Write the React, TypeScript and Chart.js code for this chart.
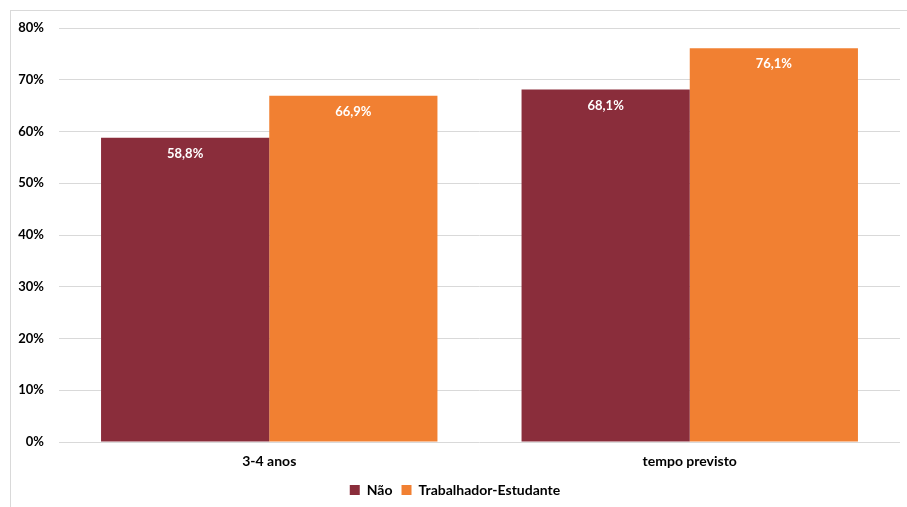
import React, { useEffect, useRef } from "react";
import { Chart, registerables } from "chart.js";

Chart.register(...registerables);

const categories = ["3-4 anos", "tempo previsto"];
const seriesNames = ["Não", "Trabalhador-Estudante"];
const naoValues = [58.8, 68.1];
const trabValues = [66.9, 76.1];
const yTicks = [0, 10, 20, 30, 40, 50, 60, 70, 80];

const FONT = "Lato, 'Noto Sans', sans-serif";

const outerBorder = {
  id: "outerBorder",
  beforeDraw(chart: any) {
    const ctx = chart.ctx;
    ctx.save();
    ctx.strokeStyle = "#d9d9d9";
    ctx.lineWidth = 1;
    ctx.strokeRect(10.5, 10.5, chart.width + 10, chart.height + 10);
    ctx.restore();
  },
};

const barLabels = {
  id: "barLabels",
  afterDatasetsDraw(chart: any) {
    const ctx = chart.ctx;
    ctx.save();
    ctx.fillStyle = "#ffffff";
    ctx.font = `bold 13px ${FONT}`;
    ctx.textAlign = "center";
    ctx.textBaseline = "middle";
    chart.data.datasets.forEach((ds: any, di: number) => {
      const meta = chart.getDatasetMeta(di);
      meta.data.forEach((bar: any, i: number) => {
        const v = ds.data[i] as number;
        ctx.fillText(v.toFixed(1).replace(".", ",") + "%", bar.x, bar.y + 16);
      });
    });
    ctx.restore();
  },
};

export default function App() {
  const ref = useRef<HTMLCanvasElement>(null);
  useEffect(() => {
    if (!ref.current) return;
    const chart = new Chart(ref.current, {
      type: "bar",
      data: {
        labels: categories,
        datasets: [
          {
            label: seriesNames[0],
            data: naoValues,
            backgroundColor: "#8A2D3B",
            categoryPercentage: 0.8,
            barPercentage: 1.0,
          },
          {
            label: seriesNames[1],
            data: trabValues,
            backgroundColor: "#F18032",
            categoryPercentage: 0.8,
            barPercentage: 1.0,
          },
        ],
      },
      options: {
        responsive: false,
        animation: false,
        layout: { padding: { left: 10, right: 7, top: 28, bottom: 0 } },
        plugins: {
          legend: {
            position: "bottom",
            labels: {
              font: { family: FONT, size: 14, weight: "bold" },
              color: "#000000",
              boxWidth: 10,
              boxHeight: 10,
              padding: 9,
            },
          },
          tooltip: { enabled: false },
        },
        scales: {
          x: {
            grid: { display: false },
            border: { display: false },
            ticks: {
              font: { family: FONT, size: 14, weight: "bold" },
              color: "#000000",
              padding: 3,
            },
            afterFit: (s: any) => {
              s.height = 32;
            },
          },
          y: {
            min: 0,
            max: 80,
            afterBuildTicks: (s: any) => {
              s.ticks = yTicks.map((v) => ({ value: v }));
            },
            grid: { color: "#d9d9d9", drawTicks: false, lineWidth: 1 },
            border: { display: false },
            ticks: {
              font: { family: FONT, size: 13, weight: "bold" },
              color: "#000000",
              padding: 15,
              callback: (v: any) => v + "%",
            },
            afterFit: (s: any) => {
              s.width = 49;
            },
          },
        },
      },
      plugins: [outerBorder, barLabels],
    });
    return () => chart.destroy();
  }, []);
  return (
    <div style={{ position: "fixed", left: 0, top: 0, width: 907, height: 507, background: "#fff" }}>
      <canvas ref={ref} width={907} height={507} style={{ display: "block" }} />
    </div>
  );
}
